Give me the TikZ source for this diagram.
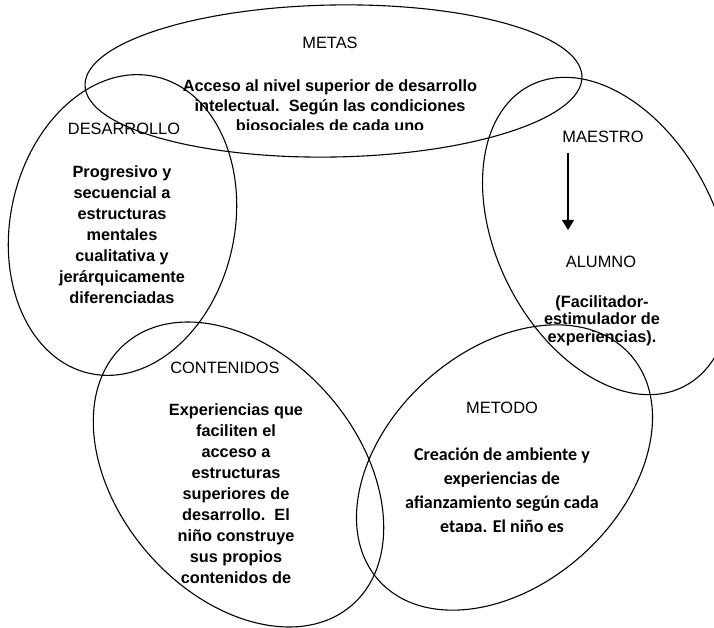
\documentclass[tikz,border=0pt]{standalone}
\usepackage{fontspec}
\setmainfont{Liberation Sans}
\newfontfamily\calib{Carlito}
\usetikzlibrary{arrows.meta}
\begin{document}
\begin{tikzpicture}[x=1pt,y=1pt]
\tikzset{
 ring/.style={draw=black, line width=1.1pt},
 ttl/.style={font=\fontsize{16.4}{19}\selectfont, anchor=base, inner sep=0pt},
 body/.style={font=\fontsize{16.3}{21}\selectfont\bfseries, align=center, anchor=base, inner sep=0pt},
 bodyc/.style={font=\fontsize{18}{24}\selectfont\calib\bfseries, align=center, anchor=base, inner sep=0pt},
 arr/.style={-{Triangle[width=12pt,length=10pt]}, line width=1.1pt},
}
\useasboundingbox (0,0) rectangle (714,-628);
\clip (0,0) rectangle (714,-628);
% ellipses
\draw[ring, rotate around={1:(333.5,-81)}] (333.5,-81) ellipse [x radius=248.5, y radius=76];
\draw[ring, rotate around={-12.5:(122.5,-225)}] (122.5,-225) ellipse [x radius=112, y radius=152];
\draw[ring, rotate around={27:(607,-236)}] (607,-236) ellipse [x radius=110, y radius=169];
\draw[ring, rotate around={41:(238.5,-474.5)}] (238.5,-474.5) ellipse [x radius=120, y radius=173];
\draw[ring, rotate around={-48:(504.5,-467.5)}] (504.5,-467.5) ellipse [x radius=117, y radius=169];
% METAS (anchor = baseline of last line)
\node[ttl] (metas) at (330,-49) {METAS};
\begin{scope}
\clip (0,-60) rectangle (714,-129.5);
\node[body, font=\fontsize{16.3}{20}\selectfont\bfseries] (metasb) at (330,-132) {Acceso al nivel superior de desarrollo\\intelectual.\ \ Según las condiciones\\biosociales de cada uno};
\end{scope}
% DESARROLLO
\node[ttl] (des) at (124,-135) {DESARROLLO};
\node[body] (desb) at (122,-303) {Progresivo y\\secuencial a\\estructuras\\mentales\\cualitativa y\\jerárquicamente\\diferenciadas};
% MAESTRO
\node[ttl] (mae) at (603,-143) {MAESTRO};
\coordinate (aS) at (568,-153);
\coordinate (aE) at (568,-230);
\draw[arr] (aS) -- (aE);
\node[ttl] (alu) at (601,-267) {ALUMNO};
\node[body, font=\fontsize{16.3}{17.5}\selectfont\bfseries] (alub) at (602,-342) {(Facilitador-\\estimulador de\\experiencias).};
% CONTENIDOS
\node[ttl] (con) at (225,-373) {CONTENIDOS};
\node[body] (conb) at (236,-583) {Experiencias que\\faciliten el\\acceso a\\estructuras\\superiores de\\desarrollo.\ \ El\\niño construye\\sus propios\\contenidos de};
% METODO
\node[ttl] (met) at (502,-413) {METODO};
\begin{scope}
\clip (300,-430) rectangle (714,-531);
\node[bodyc] (metb) at (502,-532) {Creación de ambiente y\\experiencias de\\afianzamiento según cada\\etapa. El niño es};
\end{scope}
\end{tikzpicture}
\end{document}
